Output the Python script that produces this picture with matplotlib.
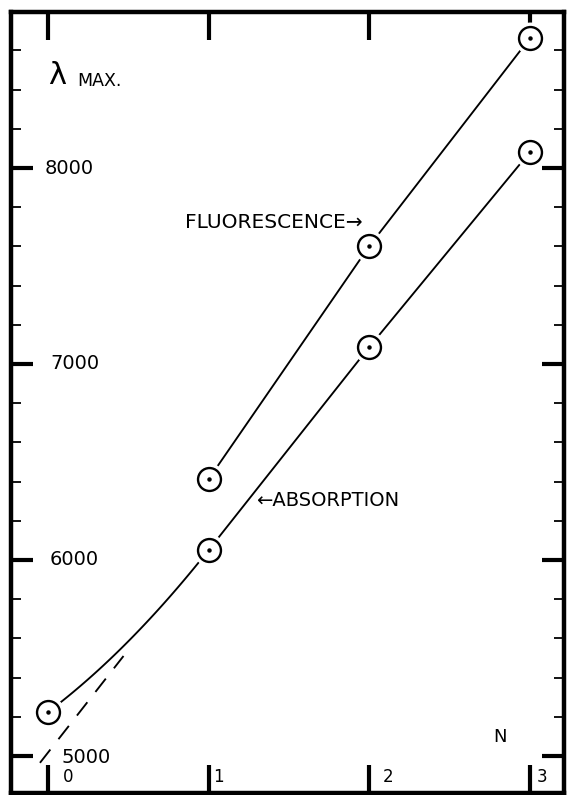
import numpy as np
import matplotlib
matplotlib.use("Agg")
import matplotlib.pyplot as plt

# number of units N and wavelength of maximum (Angstrom)
abs_n = [0, 1, 2, 3]
abs_lambda = [5224, 6051, 7087, 8082]
fl_n = [1, 2, 3]
fl_lambda = [6413, 7602, 8663]
# dashed extrapolation of the straight part below N=1
dash_n = [-0.05, 0.47]
dash_lambda = [4965, 5510]

x_ticks = [0, 1, 2, 3]
y_ticks = [5000, 6000, 7000, 8000]
y_minor = list(range(5000, 8800, 200))

ink = "black"
plt.rcParams["font.family"] = ["DejaVu Sans"]

fig = plt.figure(figsize=(5.69, 7.95), dpi=100)
ax = fig.add_axes([11 / 569, 1 - 793 / 795, 553 / 569, 781 / 795])
ax.set_xlim(-0.2303, 3.2116)
ax.set_ylim(4811, 8796)

# absorption: curved between N=0 and N=1 (meeting the next segment smoothly),
# then straight from point to point
slope = abs_lambda[2] - abs_lambda[1]
a = abs_lambda[0] - abs_lambda[1] + slope
x0 = np.linspace(abs_n[0], abs_n[1], 100)
y0 = a * (x0 - abs_n[1]) ** 2 + slope * (x0 - abs_n[1]) + abs_lambda[1]
ax.plot(x0, y0, color=ink, lw=1.35, zorder=2)
ax.plot(abs_n[1:], abs_lambda[1:], color=ink, lw=1.35, zorder=2)

ax.plot(fl_n, fl_lambda, color=ink, lw=1.35, zorder=2)

ax.plot(dash_n, dash_lambda, color=ink, lw=1.35, dashes=(9, 7), zorder=2)

# open circles with a centre dot, leaving a small gap around them
for xs, ys in [(abs_n, abs_lambda), (fl_n, fl_lambda)]:
    ax.plot(xs, ys, ls="none", marker="o", ms=22, mfc="white", mec="white", zorder=3)
    ax.plot(xs, ys, ls="none", marker="o", ms=16.5, mfc="white", mec=ink, mew=1.7, zorder=4)
    ax.plot(xs, ys, ls="none", marker="o", ms=2.2, mfc=ink, mec=ink, zorder=5)

for s in ax.spines.values():
    s.set_linewidth(3.2)
    s.set_color(ink)

ax.set_xticks(x_ticks)
ax.set_yticks(y_ticks)
ax.set_yticks(y_minor, minor=True)
ax.tick_params(axis="both", which="both", direction="in", top=True, right=True,
               labelbottom=False, labelleft=False, colors=ink)
ax.tick_params(axis="x", which="major", length=20, width=3)
ax.tick_params(axis="y", which="major", length=16, width=3)
ax.tick_params(axis="y", which="minor", length=7.5, width=1.3)

# tick labels, lettered inside the frame
label_x = [0.093, 1.027, 2.085, 3.043]
for n, lx in zip(x_ticks, label_x):
    ax.text(lx, 4893, str(n), fontsize=12, ha="left", va="center", color=ink)

label_y_left = [0.087, 0.012, 0.012, -0.019]
label_y_pos = [4990, 6000, 7000, 8000]
for v, lx, ly in zip(y_ticks, label_y_left, label_y_pos):
    ax.text(lx, ly, str(v), fontsize=14, ha="left", va="center", color=ink)

ax.text(0.0, 8474, "λ", fontsize=22, ha="left", va="center", color=ink)
ax.text(0.18, 8444, "MAX.", fontsize=12.5, ha="left", va="center", color=ink)
ax.text(0.853, 7724, "FLUORESCENCE→", fontsize=14.5, ha="left", va="center", color=ink)
ax.text(1.295, 6301, "←ABSORPTION", fontsize=14, ha="left", va="center", color=ink)
ax.text(2.77, 5097, "N", fontsize=13, ha="left", va="center", color=ink)

fig.savefig("out.png", dpi=100)
